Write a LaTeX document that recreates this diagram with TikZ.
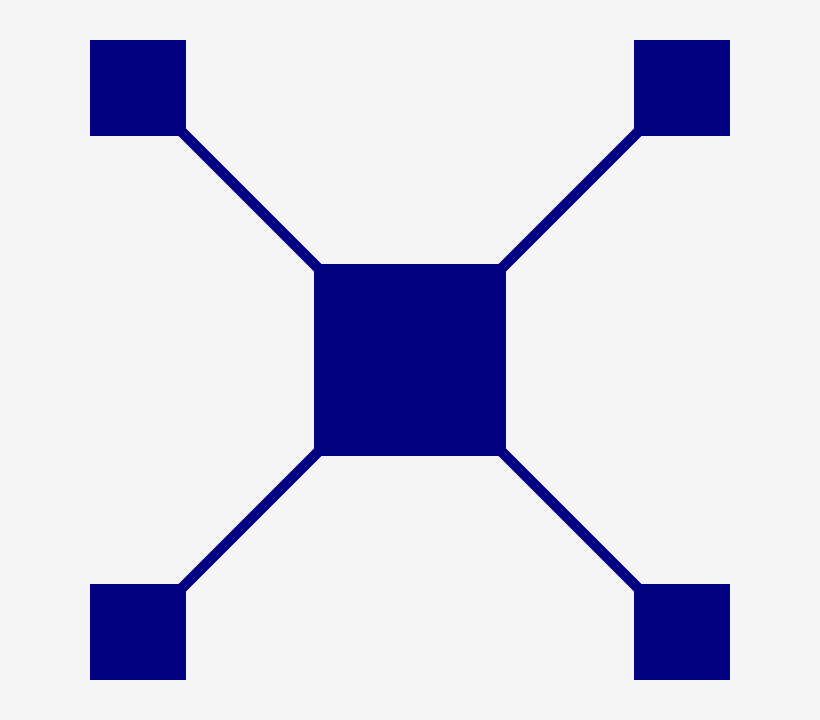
\documentclass[tikz,border=0pt]{standalone}
\usepackage{xcolor}
\definecolor{navy}{HTML}{000080}
\definecolor{paper}{HTML}{F5F5F5}
\usetikzlibrary{positioning}

\begin{document}
\begin{tikzpicture}[x=0.025cm, y=0.025cm]
  % page background
  \fill[paper] (0,0) rectangle (820,720);
  \useasboundingbox (0,0) rectangle (820,720);

  % central hub
  \node[fill=navy, inner sep=0, outer sep=0, minimum size=4.8cm] (hub) at (410,360) {};

  % corner squares
  \node[fill=navy, inner sep=0, outer sep=0, minimum size=2.4cm] (nw) at (138,632) {};
  \node[fill=navy, inner sep=0, outer sep=0, minimum size=2.4cm] (ne) at (682,632) {};
  \node[fill=navy, inner sep=0, outer sep=0, minimum size=2.4cm] (sw) at (138,88) {};
  \node[fill=navy, inner sep=0, outer sep=0, minimum size=2.4cm] (se) at (682,88) {};

  % spokes (corner square <-> hub)
  \draw[navy, line width=0.26cm, shorten <=-0.25cm, shorten >=-0.25cm] (nw.south east) -- (hub.north west);
  \draw[navy, line width=0.26cm, shorten <=-0.25cm, shorten >=-0.25cm] (ne.south west) -- (hub.north east);
  \draw[navy, line width=0.26cm, shorten <=-0.25cm, shorten >=-0.25cm] (sw.north east) -- (hub.south west);
  \draw[navy, line width=0.26cm, shorten <=-0.25cm, shorten >=-0.25cm] (se.north west) -- (hub.south east);
\end{tikzpicture}
\end{document}
